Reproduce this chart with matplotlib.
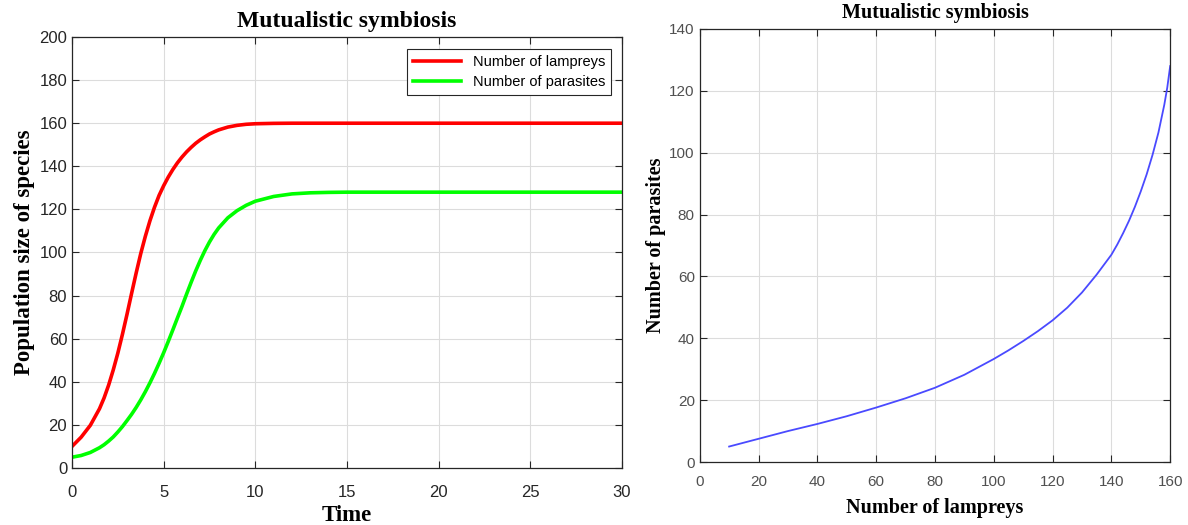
import matplotlib
matplotlib.use("Agg")
import matplotlib.pyplot as plt

# ---- data ----
time = [0, 0.5, 1, 1.5, 1.75, 2, 2.25, 2.5, 2.75, 3, 3.25, 3.5, 3.75, 4, 4.25, 4.5,
        4.75, 5, 5.25, 5.5, 5.75, 6, 6.25, 6.5, 6.75, 7, 7.25, 7.5, 7.75, 8, 8.5, 9,
        9.5, 10, 11, 12, 13, 14, 15, 20, 25, 30]
lampreys = [10, 14.3, 19.8, 27.5, 32.5, 38.5, 45.5, 53.3, 62, 71.3, 81, 90.5, 99.5,
            107.5, 114.7, 121, 126.5, 131, 135, 138.5, 141.6, 144.3, 146.7, 148.8,
            150.7, 152.3, 153.7, 155, 156, 156.9, 158.2, 159, 159.5, 159.75, 159.93,
            160, 160, 160, 160, 160, 160, 160]
parasites = [5, 5.8, 7.2, 9.4, 10.8, 12.5, 14.4, 16.7, 19.2, 22, 24.9, 28.1, 31.6,
             35.4, 39.5, 43.9, 48.6, 53.5, 58.7, 64.1, 69.6, 75, 80.7, 86.2, 91.5,
             96.4, 100.9, 104.9, 108.4, 111.4, 116.1, 119.4, 121.9, 123.8, 126, 127.2,
             127.7, 127.9, 128, 128, 128, 128]

phase_lampreys = [10, 20, 30, 40, 50, 60, 70, 80, 90, 100, 105, 110, 115, 120, 125,
                  130, 135, 140, 142, 144, 146, 148, 150, 152, 154, 156, 158, 159, 160]
phase_parasites = [5, 7.5, 10, 12.3, 14.8, 17.6, 20.6, 24, 28.2, 33.3, 36.1, 39.1,
                   42.3, 45.8, 49.9, 54.8, 60.6, 67, 70.3, 74, 78, 82.5, 87.5, 93,
                   99.3, 106.5, 115.5, 121, 128]

left_xticks = [0, 5, 10, 15, 20, 25, 30]
left_yticks = list(range(0, 201, 20))
right_xticks = list(range(0, 161, 20))
right_yticks = list(range(0, 141, 20))

title = "Mutualistic symbiosis"

serif = ["Liberation Serif", "DejaVu Serif"]
sans = ["Liberation Sans", "DejaVu Sans"]

fig = plt.figure(figsize=(11.88, 5.25), dpi=100)
fig.patch.set_facecolor("white")


def style_axes(ax, tick_size, tick_color, xpad):
    ax.grid(True, color="#dcdcdc", linewidth=0.8)
    ax.set_axisbelow(True)
    ax.tick_params(direction="in", top=True, right=True, length=5,
                   labelsize=tick_size, labelcolor=tick_color, color="#262626", width=0.8)
    ax.tick_params(axis="x", pad=xpad)
    for lab in ax.get_xticklabels() + ax.get_yticklabels():
        lab.set_family(sans)
    for s in ax.spines.values():
        s.set_color("#262626")
        s.set_linewidth(0.9)


# ---- left panel ----
ax1 = fig.add_axes([0.0606, 0.1086, 0.4630, 0.8209])
ax1.plot(time, lampreys, color="#ff0000", linewidth=2.6, label="Number of lampreys")
ax1.plot(time, parasites, color="#00ff00", linewidth=2.6, label="Number of parasites")
ax1.set_xlim(0, 30)
ax1.set_ylim(0, 200)
ax1.set_xticks(left_xticks)
ax1.set_yticks(left_yticks)
style_axes(ax1, 12, "#262626", 12)
ax1.set_title(title, family=serif, fontweight="bold", fontsize=17, pad=7.5)
ax1.set_xlabel("Time", family=serif, fontweight="bold", fontsize=16.5, labelpad=4)
ax1.set_ylabel("Population size of species", family=serif, fontweight="bold",
               fontsize=16.5, labelpad=3)
leg = ax1.legend(loc="upper right", prop={"family": sans, "size": 10.5},
                 fancybox=False, framealpha=1, edgecolor="#262626",
                 handlelength=3.3, borderpad=0.4, labelspacing=0.45,
                 borderaxespad=0, bbox_to_anchor=(0.98, 0.972))
leg.get_frame().set_linewidth(0.8)

# ---- right panel ----
ax2 = fig.add_axes([0.589, 0.12, 0.396, 0.8248])
ax2.plot(phase_lampreys, phase_parasites, color="#4a4aff", linewidth=1.3)
ax2.set_xlim(0, 160)
ax2.set_ylim(0, 140)
ax2.set_xticks(right_xticks)
ax2.set_yticks(right_yticks)
style_axes(ax2, 11, "#505050", 9)
ax2.set_title(title, family=serif, fontweight="bold", fontsize=14.5, pad=8)
ax2.set_xlabel("Number of lampreys", family=serif, fontweight="bold", fontsize=14.5, labelpad=6.5)
ax2.set_ylabel("Number of parasites", family=serif, fontweight="bold", fontsize=14.5, labelpad=2.5)

fig.savefig("out.png", dpi=100)
